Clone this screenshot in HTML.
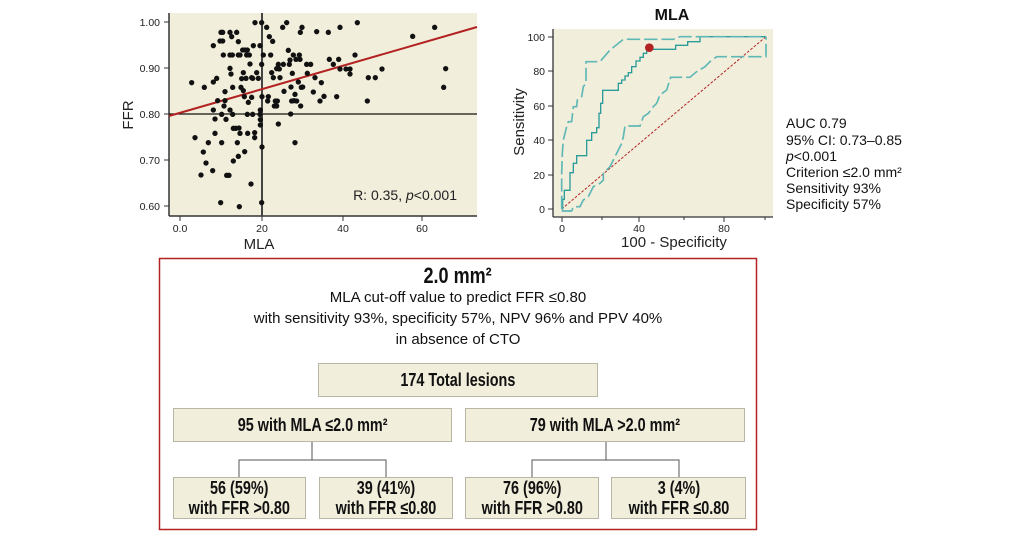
<!DOCTYPE html>
<html><head><meta charset="utf-8"><style>
body{margin:0;background:#fff;width:1033px;height:537px;overflow:hidden;font-family:"Liberation Sans",sans-serif;}
svg text{font-family:"Liberation Sans",sans-serif;}
.b{position:absolute;background:#f2eedc;border:1px solid #b9b6a6;box-sizing:border-box;display:flex;align-items:center;justify-content:center;text-align:center;font-weight:bold;font-size:18px;line-height:20px;color:#111;}
.b span{display:inline-block;transform:scaleX(0.8);white-space:nowrap;}
.t{position:absolute;left:159px;width:598px;text-align:center;color:#111;}
</style></head><body>
<svg width="1033" height="537" style="position:absolute;left:0;top:0">
<rect x="169" y="13" width="308" height="203" fill="#f2eedc"/>
<line x1="169" y1="13" x2="169" y2="216" stroke="#333" stroke-width="1.5"/>
<line x1="169" y1="216" x2="477" y2="216" stroke="#333" stroke-width="1.5"/>
<g stroke="#333"><line x1="164" y1="22" x2="169" y2="22"/><line x1="164" y1="68" x2="169" y2="68"/><line x1="164" y1="114" x2="169" y2="114"/><line x1="164" y1="160" x2="169" y2="160"/><line x1="164" y1="206" x2="169" y2="206"/>
<line x1="180" y1="216" x2="180" y2="221"/><line x1="262" y1="216" x2="262" y2="221"/><line x1="343" y1="216" x2="343" y2="221"/><line x1="422" y1="216" x2="422" y2="221"/></g>
<g font-size="10.5" fill="#222" text-anchor="end"><text x="160" y="26">1.00</text><text x="160" y="72">0.90</text><text x="160" y="118">0.80</text><text x="160" y="164">0.70</text><text x="160" y="210">0.60</text></g>
<g font-size="10.5" fill="#222" text-anchor="middle"><text x="180" y="232">0.0</text><text x="262" y="232">20</text><text x="343" y="232">40</text><text x="422" y="232">60</text></g>
<text x="259" y="249" font-size="15" text-anchor="middle" fill="#222">MLA</text>
<text transform="translate(133,115) rotate(-90)" font-size="15" text-anchor="middle" fill="#222">FFR</text>
<line x1="169" y1="114" x2="477" y2="114" stroke="#111" stroke-width="1.3"/>
<line x1="262" y1="13" x2="262" y2="216" stroke="#444" stroke-width="2"/>
<line x1="169" y1="116" x2="477" y2="27" stroke="#b22222" stroke-width="2"/>
<text x="457" y="200" font-size="14" text-anchor="end" fill="#222">R: 0.35, <tspan font-style="italic">p</tspan>&lt;0.001</text>
<g transform="translate(120,0) scale(0.33333)" fill="#111">
<circle cx="215" cy="248" r="8"/><circle cx="225" cy="413" r="8"/><circle cx="250" cy="456" r="8"/><circle cx="243" cy="525" r="8"/><circle cx="253" cy="262" r="8"/><circle cx="265" cy="428" r="8"/><circle cx="258" cy="489" r="8"/><circle cx="278" cy="512" r="8"/><circle cx="280" cy="137" r="8"/><circle cx="280" cy="246" r="8"/><circle cx="285" cy="357" r="8"/><circle cx="290" cy="235" r="8"/><circle cx="293" cy="302" r="8"/><circle cx="280" cy="330" r="8"/><circle cx="285" cy="400" r="8"/><circle cx="300" cy="123" r="8"/><circle cx="308" cy="123" r="8"/><circle cx="303" cy="97" r="8"/><circle cx="308" cy="97" r="8"/><circle cx="302" cy="608" r="8"/><circle cx="305" cy="343" r="8"/><circle cx="305" cy="428" r="8"/><circle cx="310" cy="165" r="8"/><circle cx="315" cy="302" r="8"/><circle cx="315" cy="275" r="8"/><circle cx="312" cy="318" r="8"/><circle cx="318" cy="358" r="8"/><circle cx="320" cy="526" r="8"/><circle cx="327" cy="526" r="8"/><circle cx="330" cy="97" r="8"/><circle cx="330" cy="205" r="8"/><circle cx="330" cy="330" r="8"/><circle cx="335" cy="110" r="8"/><circle cx="330" cy="165" r="8"/><circle cx="333" cy="222" r="8"/><circle cx="337" cy="165" r="8"/><circle cx="338" cy="262" r="8"/><circle cx="338" cy="343" r="8"/><circle cx="340" cy="385" r="8"/><circle cx="347" cy="385" r="8"/><circle cx="340" cy="483" r="8"/><circle cx="350" cy="97" r="8"/><circle cx="355" cy="125" r="8"/><circle cx="355" cy="165" r="8"/><circle cx="355" cy="469" r="8"/><circle cx="357" cy="384" r="8"/><circle cx="352" cy="428" r="8"/><circle cx="358" cy="620" r="8"/><circle cx="360" cy="400" r="8"/><circle cx="360" cy="165" r="8"/><circle cx="363" cy="262" r="8"/><circle cx="365" cy="236" r="8"/><circle cx="368" cy="150" r="8"/><circle cx="375" cy="150" r="8"/><circle cx="370" cy="218" r="8"/><circle cx="370" cy="272" r="8"/><circle cx="373" cy="290" r="8"/><circle cx="374" cy="455" r="8"/><circle cx="378" cy="235" r="8"/><circle cx="380" cy="165" r="8"/><circle cx="382" cy="150" r="8"/><circle cx="388" cy="165" r="8"/><circle cx="382" cy="343" r="8"/><circle cx="383" cy="400" r="8"/><circle cx="385" cy="307" r="8"/><circle cx="393" cy="552" r="8"/><circle cx="390" cy="192" r="8"/><circle cx="395" cy="233" r="8"/><circle cx="395" cy="292" r="8"/><circle cx="398" cy="343" r="8"/><circle cx="400" cy="137" r="8"/><circle cx="398" cy="235" r="8"/><circle cx="404" cy="398" r="8"/><circle cx="404" cy="413" r="8"/><circle cx="405" cy="68" r="8"/><circle cx="410" cy="218" r="8"/><circle cx="415" cy="235" r="8"/><circle cx="420" cy="137" r="8"/><circle cx="420" cy="343" r="8"/><circle cx="421" cy="330" r="8"/><circle cx="421" cy="359" r="8"/><circle cx="421" cy="375" r="8"/><circle cx="425" cy="68" r="8"/><circle cx="425" cy="193" r="8"/><circle cx="426" cy="290" r="8"/><circle cx="426" cy="441" r="8"/><circle cx="425" cy="608" r="8"/><circle cx="430" cy="165" r="8"/><circle cx="440" cy="82" r="8"/><circle cx="443" cy="303" r="8"/><circle cx="445" cy="290" r="8"/><circle cx="448" cy="110" r="8"/><circle cx="452" cy="165" r="8"/><circle cx="455" cy="218" r="8"/><circle cx="458" cy="124" r="8"/><circle cx="460" cy="233" r="8"/><circle cx="463" cy="318" r="8"/><circle cx="466" cy="303" r="8"/><circle cx="470" cy="318" r="8"/><circle cx="470" cy="206" r="8"/><circle cx="472" cy="303" r="8"/><circle cx="475" cy="193" r="8"/><circle cx="475" cy="372" r="8"/><circle cx="478" cy="207" r="8"/><circle cx="480" cy="233" r="8"/><circle cx="488" cy="82" r="8"/><circle cx="490" cy="193" r="8"/><circle cx="492" cy="274" r="8"/><circle cx="500" cy="68" r="8"/><circle cx="505" cy="151" r="8"/><circle cx="508" cy="193" r="8"/><circle cx="510" cy="180" r="8"/><circle cx="512" cy="342" r="8"/><circle cx="513" cy="261" r="8"/><circle cx="515" cy="303" r="8"/><circle cx="517" cy="220" r="8"/><circle cx="520" cy="165" r="8"/><circle cx="522" cy="302" r="8"/><circle cx="525" cy="283" r="8"/><circle cx="525" cy="428" r="8"/><circle cx="528" cy="178" r="8"/><circle cx="530" cy="303" r="8"/><circle cx="535" cy="246" r="8"/><circle cx="538" cy="165" r="8"/><circle cx="540" cy="178" r="8"/><circle cx="541" cy="97" r="8"/><circle cx="542" cy="318" r="8"/><circle cx="544" cy="262" r="8"/><circle cx="546" cy="82" r="8"/><circle cx="548" cy="261" r="8"/><circle cx="560" cy="193" r="8"/><circle cx="562" cy="220" r="8"/><circle cx="572" cy="193" r="8"/><circle cx="580" cy="276" r="8"/><circle cx="585" cy="233" r="8"/><circle cx="590" cy="95" r="8"/><circle cx="600" cy="303" r="8"/><circle cx="604" cy="248" r="8"/><circle cx="612" cy="289" r="8"/><circle cx="625" cy="97" r="8"/><circle cx="628" cy="178" r="8"/><circle cx="640" cy="193" r="8"/><circle cx="650" cy="290" r="8"/><circle cx="656" cy="178" r="8"/><circle cx="660" cy="207" r="8"/><circle cx="660" cy="82" r="8"/><circle cx="678" cy="207" r="8"/><circle cx="690" cy="207" r="8"/><circle cx="690" cy="222" r="8"/><circle cx="705" cy="165" r="8"/><circle cx="712" cy="68" r="8"/><circle cx="742" cy="303" r="8"/><circle cx="745" cy="233" r="8"/><circle cx="766" cy="233" r="8"/><circle cx="786" cy="207" r="8"/><circle cx="878" cy="109" r="8"/><circle cx="944" cy="82" r="8"/><circle cx="971" cy="262" r="8"/><circle cx="977" cy="206" r="8"/>
</g>
<text x="672" y="20" font-size="16" font-weight="bold" text-anchor="middle" fill="#111">MLA</text>
<rect x="553" y="29" width="220" height="188" fill="#f2eedc"/>
<line x1="553" y1="29" x2="553" y2="217" stroke="#333" stroke-width="1.3"/>
<line x1="553" y1="217" x2="773" y2="217" stroke="#333" stroke-width="1.3"/>
<g stroke="#333"><line x1="548" y1="37" x2="553" y2="37"/><line x1="548" y1="71" x2="553" y2="71"/><line x1="548" y1="106" x2="553" y2="106"/><line x1="548" y1="140" x2="553" y2="140"/><line x1="548" y1="175" x2="553" y2="175"/><line x1="548" y1="209" x2="553" y2="209"/>
<line x1="562" y1="217" x2="562" y2="222"/><line x1="602" y1="217" x2="602" y2="220"/><line x1="639" y1="217" x2="639" y2="222"/><line x1="684" y1="217" x2="684" y2="220"/><line x1="724" y1="217" x2="724" y2="222"/><line x1="765" y1="217" x2="765" y2="220"/></g>
<g font-size="10.5" fill="#222" text-anchor="end"><text x="545" y="41">100</text><text x="545" y="75">80</text><text x="545" y="110">60</text><text x="545" y="144">40</text><text x="545" y="179">20</text><text x="545" y="213">0</text></g>
<g font-size="10.5" fill="#222" text-anchor="middle"><text x="562" y="232">0</text><text x="639" y="232">40</text><text x="724" y="232">80</text></g>
<text x="674" y="247" font-size="15" text-anchor="middle" fill="#222">100 - Specificity</text>
<text transform="translate(524,122) rotate(-90)" font-size="15" text-anchor="middle" fill="#222">Sensitivity</text>
<g transform="translate(500,0) scale(0.33333)" fill="none">
<line x1="185" y1="627" x2="798" y2="110" stroke="#b22222" stroke-width="3" stroke-dasharray="8,5"/>
<polyline stroke="#2a9d9a" stroke-width="4" points="185,627 188,627 188,598 193,598 193,571 210,571 210,518 220,518 220,490 230,490 230,467 260,467 260,421 275,421 275,398 290,398 290,383 297,383 297,340 302,340 302,310 308,310 308,271 355,271 355,250 365,250 365,240 375,240 375,228 385,228 385,218 395,218 395,200 408,200 408,183 420,183 420,172 430,172 430,160 440,160 440,148 527,148 527,136 563,136 563,125 600,125 600,110 798,110"/>
<polyline stroke="#5fb8b5" stroke-width="5" stroke-dasharray="40,12" points="185,627 185,520 187,460 190,420 200,380 205,365 215,365 220,320 230,320 232,300 245,290 250,260 258,250 258,185 300,185 330,150 370,118 520,118 540,110 798,110"/>
<polyline stroke="#5fb8b5" stroke-width="5" stroke-dasharray="40,12" points="185,633 215,633 220,620 240,620 250,600 265,590 280,560 300,550 310,540 310,520 330,500 350,460 365,430 370,410 375,378 420,378 430,350 445,340 460,320 470,310 480,285 500,270 512,232 570,232 590,215 615,200 630,185 650,170 700,170 798,170 798,110"/>
<circle cx="448" cy="143" r="13" fill="#b22222"/>
</g>
<g font-size="14" fill="#111">
<text x="786" y="128">AUC 0.79</text>
<text x="786" y="145">95% CI: 0.73–0.85</text>
<text x="786" y="161"><tspan font-style="italic">p</tspan>&lt;0.001</text>
<text x="786" y="177">Criterion ≤2.0 mm²</text>
<text x="786" y="193">Sensitivity 93%</text>
<text x="786" y="209">Specificity 57%</text>
</g>
<rect x="159.5" y="258.5" width="597" height="271" fill="none" stroke="#b22222" stroke-width="1.5"/>
<g stroke="#555" fill="none"><polyline points="312,441 312,460"/><polyline points="239,477 239,460 386,460 386,477"/><polyline points="606,441 606,460"/><polyline points="532,477 532,460 679,460 679,477"/></g>
</svg>
<div class="t" style="top:263px;font-size:22px;font-weight:bold;line-height:26px"><span style="display:inline-block;transform:scaleX(0.82)">2.0 mm²</span></div>
<div class="t" style="top:287px;font-size:15px;line-height:21px">MLA cut-off value to predict FFR ≤0.80<br>with sensitivity 93%, specificity 57%, NPV 96% and PPV 40%<br>in absence of CTO</div>
<div class="b" style="left:318px;top:363px;width:280px;height:34px"><span>174 Total lesions</span></div>
<div class="b" style="left:173px;top:408px;width:279px;height:34px"><span>95 with MLA ≤2.0 mm²</span></div>
<div class="b" style="left:465px;top:408px;width:280px;height:34px"><span>79 with MLA &gt;2.0 mm²</span></div>
<div class="b" style="left:173px;top:477px;width:133px;height:42px"><span>56 (59%)<br>with FFR &gt;0.80</span></div>
<div class="b" style="left:319px;top:477px;width:134px;height:42px"><span>39 (41%)<br>with FFR ≤0.80</span></div>
<div class="b" style="left:465px;top:477px;width:134px;height:42px"><span>76 (96%)<br>with FFR &gt;0.80</span></div>
<div class="b" style="left:611px;top:477px;width:135px;height:42px"><span>3 (4%)<br>with FFR ≤0.80</span></div>
</body></html>
